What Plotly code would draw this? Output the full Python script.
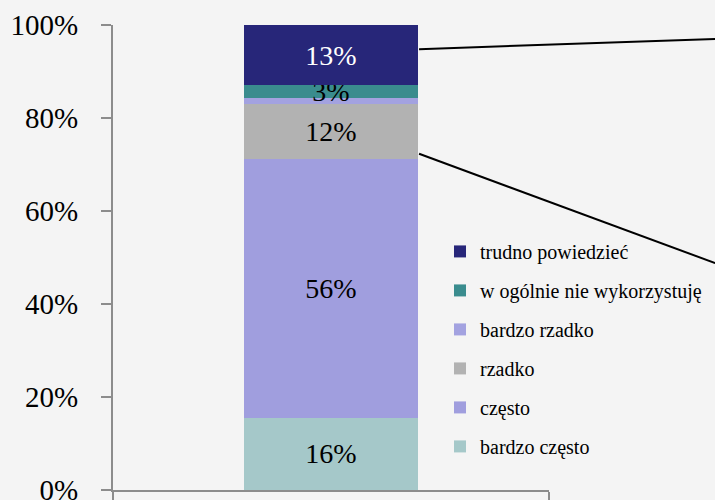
import plotly.graph_objects as go

# dane (procenty)
kategoria = ['']
serie = ['bardzo często', 'często', 'rzadko', 'bardzo rzadko',
         'w ogólnie nie wykorzystuję', 'trudno powiedzieć']
wartosci = [15.5, 55.7, 11.9, 1.3, 2.6, 13.0]
etykiety = ['16%', '56%', '12%', '', '3%', '13%']
kolory = ['#A5C8C9', '#A09EDE', '#B2B2B2', '#A3A2E0', '#3A8C8E', '#272679']
kolory_tekstu = ['black', 'black', 'black', 'black', 'black', 'white']

fig = go.Figure()
for i, nazwa in enumerate(serie):
    fig.add_trace(go.Bar(
        x=kategoria, y=[wartosci[i]], name=nazwa,
        marker_color=kolory[i], marker_line_width=0,
        text=[etykiety[i]], textposition='inside', insidetextanchor='middle',
        constraintext='none',
        textfont=dict(family='Liberation Serif', size=28, color=kolory_tekstu[i]),
        legendgroup=nazwa, legendrank=100 - i, hoverinfo='skip',
    ))

# linie łączące z (ucietym) wykresem obok
fig.add_shape(type='line', xref='paper', yref='y', x0=0.702, y0=94.8, x1=1.381, y1=97.0,
              line=dict(color='black', width=2))
fig.add_shape(type='line', xref='paper', yref='y', x0=0.702, y0=72.3, x1=1.381, y1=48.8,
              line=dict(color='black', width=2))

fig.update_layout(
    width=715, height=500,
    barmode='stack', bargap=0.6,
    paper_bgcolor='#F4F4F4', plot_bgcolor='#F4F4F4',
    margin=dict(l=113, r=166, t=25, b=10, autoexpand=False),
    font=dict(family='Liberation Serif', color='black'),
    legend=dict(traceorder='grouped', x=0.75, xanchor='left', y=0.555, yanchor='top',
                font=dict(size=20), bgcolor='rgba(0,0,0,0)',
                tracegroupgap=10, itemwidth=30),
    showlegend=True,
)
fig.update_yaxes(range=[0, 100], dtick=20, ticksuffix='%', showgrid=False,
                 showline=True, linecolor='#8C8C8C', linewidth=2,
                 ticks='outside', ticklen=10, tickcolor='#8C8C8C', tickwidth=2,
                 tickfont=dict(size=29), ticklabelstandoff=17, zeroline=False,
                 automargin=False, ticklabeloverflow='allow')
fig.update_xaxes(showline=True, linecolor='#8C8C8C', linewidth=2,
                 ticks='outside', ticklen=10, tickcolor='#8C8C8C', tickwidth=2,
                 tickson='boundaries', showticklabels=False, showgrid=False,
                 automargin=False)

fig.write_html("out.html", config={'displayModeBar': False},
               post_script="document.body.style.margin='0';document.body.style.overflow='hidden';")
